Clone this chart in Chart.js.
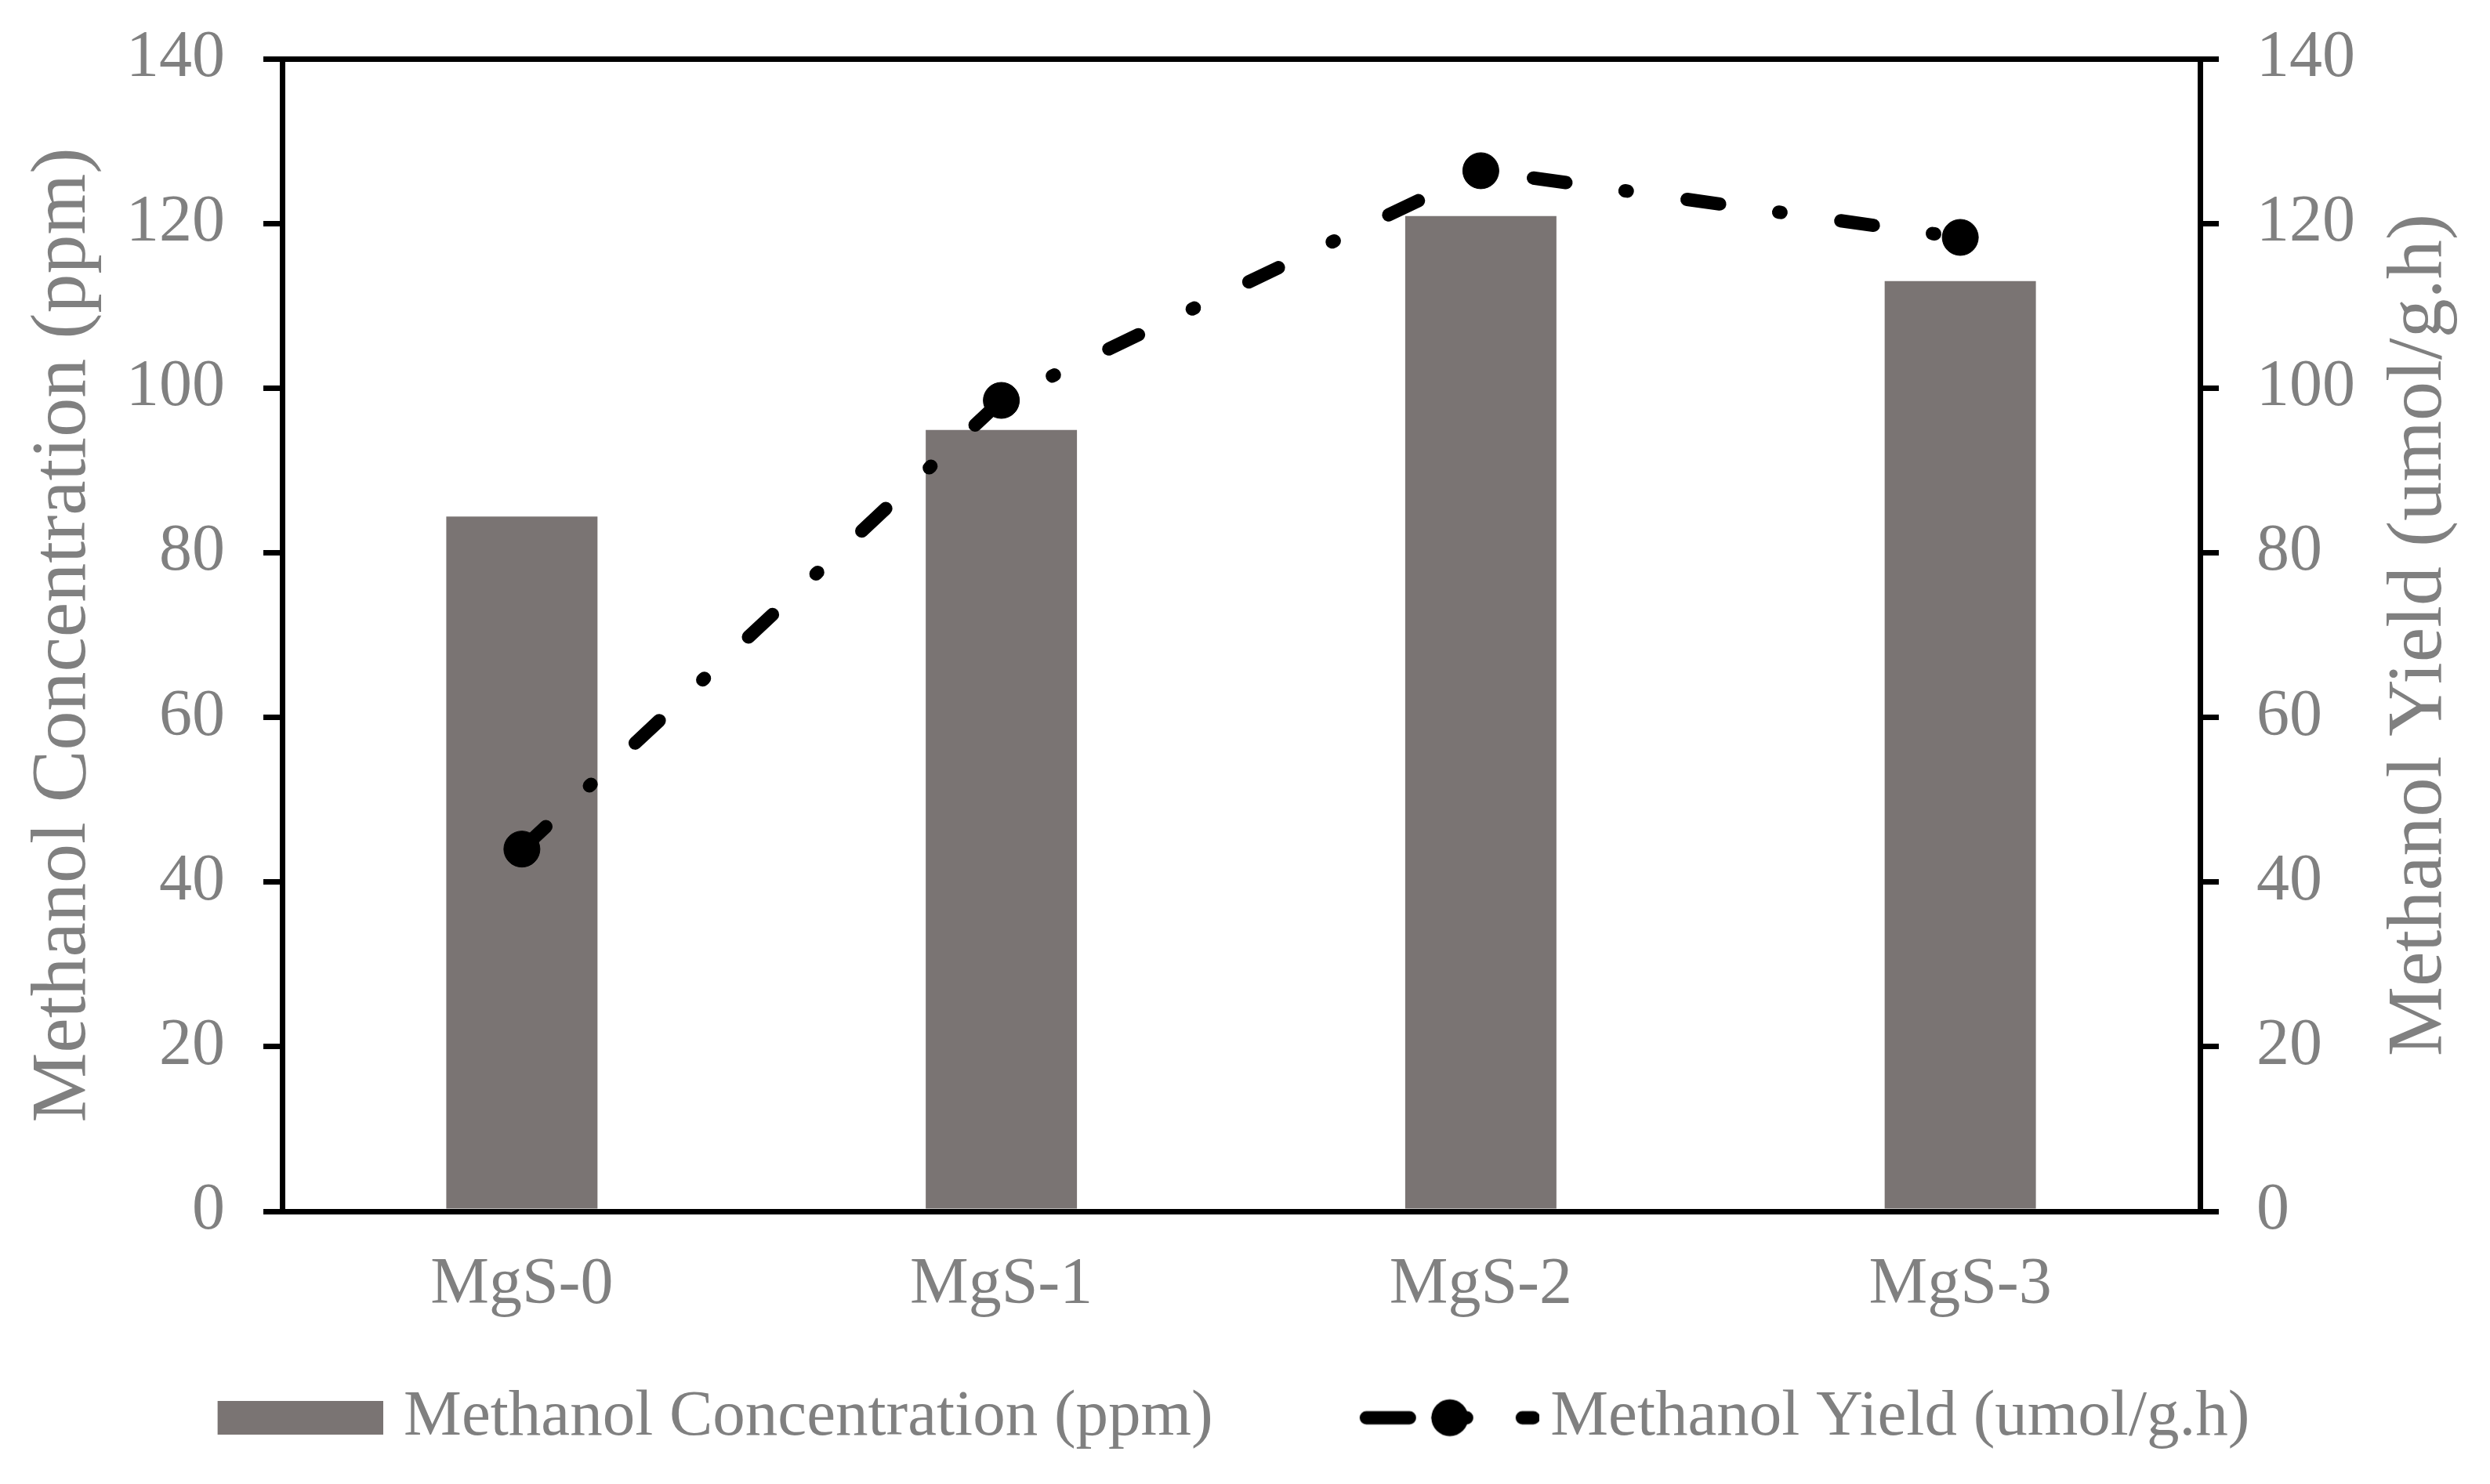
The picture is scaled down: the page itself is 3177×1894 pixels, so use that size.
<!DOCTYPE html>
<html>
<head>
<meta charset="utf-8">
<script src="https://cdn.jsdelivr.net/npm/chart.js@4.4.0/dist/chart.umd.min.js"></script>
<style>
html,body{margin:0;padding:0;background:#fff;}
canvas{display:block;}
</style>
</head>
<body>
<canvas id="c" width="3177" height="1894" style="width:3177px;height:1894px"></canvas>
<script>
// ---- data ----
const categories = ['MgS-0', 'MgS-1', 'MgS-2', 'MgS-3'];
const concentrationValues = [84.4, 94.9, 120.9, 113.0];
const yieldValues = [44.0, 98.5, 126.4, 118.3];
const yTickValues = [0, 20, 40, 60, 80, 100, 120, 140];
const seriesNames = ['Methanol Concentration (ppm)', 'Methanol Yield (umol/g.h)'];
const axisTitles = ['Methanol Concentration (ppm)', 'Methanol Yield (umol/g.h)'];

// ---- styles ----
const FONT = "'Liberation Serif','Times New Roman',serif";
const GRAY = '#808080';
const BAR = '#7a7473';
const LEGEND_BOX = 317;

// legend icons (transparent margin on the left so the visible part sits right of centre)
function barIcon() {
  const c = document.createElement('canvas');
  c.width = LEGEND_BOX + 30; c.height = 43;
  const g = c.getContext('2d');
  g.fillStyle = BAR;
  g.fillRect(c.width - 211, 0, 211, 43);
  return c;
}
function lineIcon() {
  const c = document.createElement('canvas');
  c.width = LEGEND_BOX + 54; c.height = 50;
  const g = c.getContext('2d');
  const o = c.width - 229;
  g.strokeStyle = '#000';
  g.lineWidth = 17;
  g.lineCap = 'round';
  [[8.5, 63.5], [100, 136.5], [207.5, 221.5]].forEach(([a, b]) => {
    g.beginPath(); g.moveTo(o + a, 25); g.lineTo(o + b, 25); g.stroke();
  });
  g.fillStyle = '#000';
  g.beginPath(); g.arc(o + 115, 25, 23.5, 0, Math.PI * 2); g.fill();
  return c;
}
const barIconCanvas = barIcon();
const lineIconCanvas = lineIcon();

// right-hand axis title, read bottom-to-top like the left one
const rightTitlePlugin = {
  id: 'rightTitle',
  afterDraw(chart) {
    const s = chart.scales.y1;
    const ctx = chart.ctx;
    ctx.save();
    ctx.font = '100px ' + FONT;
    ctx.fillStyle = GRAY;
    ctx.textAlign = 'center';
    ctx.textBaseline = 'middle';
    ctx.translate(chart.width - 89, (s.top + s.bottom) / 2);
    ctx.rotate(-Math.PI / 2);
    ctx.fillText(axisTitles[1], 0, 0);
    ctx.restore();
  }
};

const tickFont = {family: FONT, size: 84};
const legendFont = {family: FONT, size: 83};

new Chart(document.getElementById('c'), {
  data: {
    labels: categories,
    datasets: [
      {
        type: 'bar',
        label: seriesNames[0],
        data: concentrationValues,
        backgroundColor: BAR,
        borderWidth: 0,
        barPercentage: 0.3154,
        categoryPercentage: 1.0,
        yAxisID: 'y',
        order: 1
      },
      {
        type: 'line',
        label: seriesNames[1],
        data: yieldValues,
        borderColor: '#000',
        borderWidth: 17,
        borderDash: [42, 76, 3, 77],
        borderCapStyle: 'round',
        borderJoinStyle: 'round',
        fill: false,
        tension: 0,
        pointRadius: 23,
        pointBackgroundColor: '#000',
        pointBorderColor: '#000',
        pointBorderWidth: 1,
        yAxisID: 'y1',
        order: 0
      }
    ]
  },
  options: {
    responsive: false,
    devicePixelRatio: 1,
    animation: false,
    layout: {padding: {top: 75, right: 150, bottom: 33, left: 0}},
    scales: {
      x: {
        offset: true,
        grid: {display: false, drawTicks: false},
        border: {display: true, color: '#000', width: 7},
        ticks: {color: GRAY, font: tickFont, padding: 45, maxRotation: 0, autoSkip: false},
        afterFit(s) { s.height = 150; s.paddingLeft = 0; s.paddingRight = 0; }
      },
      y: {
        position: 'left',
        min: 0, max: 140,
        afterBuildTicks(s) { s.ticks = yTickValues.map(v => ({value: v})); },
        grid: {
          drawOnChartArea: true,
          drawTicks: true,
          color: (c) => (c.tick && (c.tick.value === 140 || c.tick.value === 0)) ? '#000' : 'rgba(0,0,0,0)',
          tickColor: '#000',
          lineWidth: 7,
          tickWidth: 7,
          tickLength: 24
        },
        border: {display: true, color: '#000', width: 7},
        ticks: {color: GRAY, font: tickFont, padding: 49},
        title: {display: true, text: axisTitles[0], color: GRAY, font: {family: FONT, size: 100}, padding: {top: 22, bottom: 0}},
        afterFit(s) { s.width = 360; s.paddingTop = 0; s.paddingBottom = 0; }
      },
      y1: {
        position: 'right',
        min: 0, max: 140,
        afterBuildTicks(s) { s.ticks = yTickValues.map(v => ({value: v})); },
        grid: {
          drawOnChartArea: false,
          drawTicks: true,
          color: '#000',
          tickColor: '#000',
          lineWidth: 7,
          tickWidth: 7,
          tickLength: 24
        },
        border: {display: true, color: '#000', width: 7},
        ticks: {color: GRAY, font: tickFont, padding: 48},
        afterFit(s) { s.width = 220; s.paddingTop = 0; s.paddingBottom = 0; }
      }
    },
    plugins: {
      tooltip: {enabled: false},
      title: {display: false},
      legend: {
        position: 'bottom',
        labels: {
          usePointStyle: true,
          pointStyleWidth: LEGEND_BOX,
          padding: 72,
          font: legendFont,
          color: GRAY,
          generateLabels() {
            return [
              {text: seriesNames[0], pointStyle: barIconCanvas, fillStyle: BAR, strokeStyle: BAR, lineWidth: 0, hidden: false, datasetIndex: 0, fontColor: GRAY},
              {text: seriesNames[1], pointStyle: lineIconCanvas, fillStyle: '#000', strokeStyle: '#000', lineWidth: 0, hidden: false, datasetIndex: 1, fontColor: GRAY}
            ];
          }
        }
      }
    }
  },
  plugins: [rightTitlePlugin]
});
</script>
</body>
</html>
